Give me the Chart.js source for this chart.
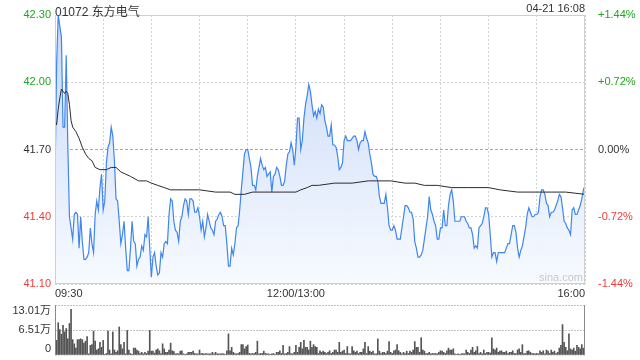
<!DOCTYPE html>
<html>
<head>
<meta charset="utf-8">
<script src="https://cdn.jsdelivr.net/npm/chart.js@4.4.1/dist/chart.umd.min.js"></script>
<style>
  body { margin: 0; background: #fff; width: 640px; height: 360px; overflow: hidden; position: relative;
         font-family: Arial, "Liberation Sans", "Noto Sans CJK SC", sans-serif; }
  canvas { position: absolute; left: 0; }
  #price { top: 0; }
  #vol { top: 300px; }
  .txt { position: absolute; color: #333; white-space: nowrap; }
</style>
</head>
<body>
<canvas id="price" width="640" height="300" style="width:640px;height:300px"></canvas>
<canvas id="vol" width="640" height="60" style="width:640px;height:60px"></canvas>
<div class="txt" style="left:55px;top:2px;font-size:12px">01072 东方电气</div>
<div class="txt" style="right:55px;top:2px;font-size:11px">04-21 16:08</div>
<div class="txt" style="right:57px;top:271px;font-size:11px;color:#c8c8c8">sina.com</div>
<script>
// minute index 0..330 (09:30-12:00, 13:00-16:00)
var prevClose = 41.70;
var priceTicks = [41.10, 41.40, 41.70, 42.00, 42.30];
var pctTicks = [-1.44, -0.72, 0, 0.72, 1.44];
var gridMinutes = [0, 30, 60, 90, 120, 150, 180, 210, 240, 270, 300, 330];
var timeLabels = { 0: "09:30", 150: "12:00/13:00", 330: "16:00" };

var prices = [
  41.56, 42.08, 42.30, 42.25, 42.20, 41.80, 41.80, 42.12, 41.71, 41.40,
  41.35, 41.30, 41.41, 41.42, 41.41, 41.26, 41.40, 41.29, 41.21, 41.21,
  41.22, 41.24, 41.35, 41.28, 41.24, 41.41, 41.47, 41.43, 41.53, 41.59,
  41.43, 41.47, 41.64, 41.71, 41.73, 41.80, 41.76, 41.65, 41.48, 41.47,
  41.38, 41.28, 41.32, 41.38, 41.26, 41.16, 41.16, 41.26, 41.38, 41.29,
  41.28, 41.18, 41.21, 41.22, 41.27, 41.25, 41.32, 41.31, 41.40, 41.26,
  41.13, 41.22, 41.24, 41.18, 41.14, 41.15, 41.24, 41.22, 41.28, 41.29,
  41.28, 41.41, 41.48, 41.47, 41.38, 41.34, 41.33, 41.29, 41.38, 41.40,
  41.45, 41.48, 41.47, 41.41, 41.48, 41.48, 41.47, 41.42, 41.42, 41.44,
  41.40, 41.34, 41.38, 41.31, 41.35, 41.41, 41.38, 41.35, 41.34, 41.32,
  41.38, 41.39, 41.41, 41.42, 41.40, 41.36, 41.36, 41.28, 41.18, 41.18,
  41.26, 41.23, 41.28, 41.35, 41.36, 41.43, 41.52, 41.60, 41.68, 41.70,
  41.70, 41.66, 41.62, 41.54, 41.54, 41.52, 41.58, 41.62, 41.66, 41.63,
  41.61, 41.62, 41.58, 41.59, 41.60, 41.51, 41.58, 41.59, 41.62, 41.61,
  41.58, 41.54, 41.54, 41.56, 41.63, 41.68, 41.69, 41.73, 41.70, 41.63,
  41.71, 41.84, 41.84, 41.70, 41.74, 41.84, 41.90, 41.94, 41.99, 41.96,
  41.90, 41.85, 41.87, 41.84, 41.88, 41.86, 41.90, 41.89, 41.83, 41.80,
  41.76, 41.76, 41.81, 41.72, 41.72, 41.71, 41.67, 41.61, 41.62, 41.64,
  41.74, 41.76, 41.74, 41.74, 41.74, 41.75, 41.76, 41.76, 41.74, 41.70,
  41.73, 41.74, 41.74, 41.78, 41.75, 41.73, 41.68, 41.64, 41.59, 41.58,
  41.58, 41.56, 41.49, 41.46, 41.46, 41.46, 41.50, 41.44, 41.36, 41.34,
  41.34, 41.36, 41.34, 41.30, 41.30, 41.30, 41.35, 41.40, 41.45, 41.45,
  41.44, 41.42, 41.42, 41.39, 41.29, 41.26, 41.22, 41.22, 41.23, 41.25,
  41.30, 41.35, 41.40, 41.49, 41.43, 41.41, 41.38, 41.36, 41.30, 41.30,
  41.35, 41.35, 41.43, 41.36, 41.36, 41.45, 41.50, 41.52, 41.47, 41.38,
  41.38, 41.38, 41.38, 41.40, 41.40, 41.40, 41.38, 41.37, 41.35, 41.35,
  41.32, 41.26, 41.27, 41.26, 41.35, 41.36, 41.37, 41.40, 41.44, 41.44,
  41.41, 41.32, 41.22, 41.24, 41.24, 41.20, 41.24, 41.24, 41.24, 41.24,
  41.24, 41.26, 41.28, 41.28, 41.32, 41.36, 41.36, 41.33, 41.26, 41.22,
  41.25, 41.27, 41.31, 41.35, 41.41, 41.44, 41.42, 41.40, 41.40, 41.41,
  41.41, 41.42, 41.49, 41.52, 41.52, 41.50, 41.46, 41.45, 41.40, 41.42,
  41.42, 41.43, 41.45, 41.47, 41.50, 41.49, 41.44, 41.38, 41.37, 41.35,
  41.34, 41.32, 41.43, 41.44, 41.41, 41.41, 41.43, 41.45, 41.48, 41.52,
  41.54
];

// average price line, read at these minutes
var avgMinutes = [0, 1, 2, 3, 4, 5, 6, 7, 8, 9, 10, 11, 13, 15, 17, 19, 21, 23, 25, 28,
  32, 35, 38, 41, 44, 47, 52, 57, 60, 64, 68, 72, 76, 80, 90, 100, 107, 109, 112, 118,
  123, 135, 145, 150, 153, 157, 160, 164, 174, 185, 195, 200, 209, 218, 224, 230, 238, 247, 257, 270,
  277, 288, 300, 309, 318, 330];
var avgValues = [41.83, 41.81, 41.88, 41.93, 41.97, 41.96, 41.95, 41.96, 41.95, 41.90,
  41.83, 41.80, 41.78, 41.75, 41.71, 41.68, 41.66, 41.65, 41.62, 41.61,
  41.61, 41.62, 41.62, 41.60, 41.59, 41.58, 41.56, 41.56, 41.55, 41.54,
  41.53, 41.52, 41.52, 41.52, 41.52, 41.51, 41.51, 41.51, 41.50, 41.50,
  41.51, 41.51, 41.51, 41.51, 41.52, 41.53, 41.54, 41.54, 41.55, 41.55,
  41.56, 41.56, 41.56, 41.55, 41.55, 41.54, 41.54, 41.53, 41.53, 41.53,
  41.52, 41.51, 41.51, 41.51, 41.51, 41.50];

// volume per minute, in 万 shares
var volumes = [
  2.5, 3.8, 8.4, 6.6, 5.4, 7.7, 6.0, 6.9, 4.2, 8.2,
  11.9, 4.0, 2.9, 1.8, 4.0, 4.0, 4.2, 4.0, 3.1, 3.6,
  4.8, 0.3, 2.5, 2.7, 6.2, 3.6, 1.3, 1.6, 3.3, 2.0,
  3.8, 0.1, 0.4, 6.2, 1.3, 0.3, 6.0, 1.3, 0.7, 1.1,
  7.3, 2.7, 1.6, 3.3, 0.3, 6.4, 1.3, 0.4, 0.1, 1.8,
  1.8, 1.3, 1.0, 0.4, 0.7, 0.3, 0.7, 0.4, 1.0, 6.4,
  1.0, 1.0, 0.5, 1.3, 1.6, 1.1, 0.4, 2.9, 1.6, 0.7,
  0.7, 1.3, 3.1, 1.1, 0.9, 0.3, 0.4, 0.3, 1.0, 1.1,
  0.3, 0.1, 0.3, 0.7, 0.7, 0.7, 1.0, 0.4, 0.3, 0.3,
  1.3, 0.4, 0.4, 0.3, 0.4, 0.3, 0.3, 0.3, 0.7, 0.3,
  0.7, 0.3, 0.3, 0.3, 0.4, 0.3, 0.1, 1.1, 5.5, 1.1,
  2.0, 0.7, 0.4, 0.3, 0.4, 0.7, 2.7, 2.7, 1.6, 2.2,
  2.6, 0.4, 0.3, 0.4, 0.4, 0.7, 3.6, 0.3, 0.4, 0.4,
  1.0, 0.4, 0.3, 0.3, 0.1, 0.3, 0.4, 0.1, 0.7, 0.7,
  1.1, 0.4, 2.5, 0.3, 0.4, 0.7, 2.2, 0.4, 0.3, 0.7,
  2.5, 0.7, 2.0, 3.3, 1.6, 3.8, 2.0, 2.0, 1.3, 3.6,
  2.0, 2.7, 2.2, 2.0, 0.4, 1.1, 0.7, 1.0, 0.7, 0.4,
  0.7, 1.1, 0.4, 0.7, 1.3, 1.3, 0.7, 3.3, 0.7, 1.0,
  1.3, 0.4, 2.2, 0.4, 0.3, 2.2, 1.1, 0.7, 1.0, 0.4,
  0.7, 0.7, 1.6, 3.3, 0.4, 2.2, 1.0, 0.7, 1.0, 0.3,
  0.3, 4.2, 1.0, 0.4, 0.7, 0.7, 0.4, 1.0, 3.5, 0.7,
  0.4, 1.1, 1.3, 2.7, 1.1, 0.7, 0.3, 0.7, 0.4, 1.0,
  0.4, 1.0, 0.7, 1.3, 3.5, 2.0, 2.0, 0.7, 4.5, 1.3,
  1.0, 0.4, 0.4, 0.7, 0.3, 0.4, 0.4, 0.4, 0.3, 0.7,
  1.1, 1.0, 0.7, 0.4, 1.1, 1.8, 1.3, 1.3, 1.6, 0.3,
  0.1, 0.3, 0.1, 0.3, 0.4, 0.3, 1.3, 0.7, 0.4, 1.3,
  2.0, 0.7, 1.1, 2.2, 0.4, 0.7, 0.3, 1.3, 0.4, 0.7,
  0.7, 0.5, 4.5, 1.6, 1.3, 1.8, 0.7, 1.0, 1.1, 0.7,
  0.7, 1.0, 0.4, 0.7, 0.7, 1.1, 0.4, 0.4, 1.3, 1.6,
  0.7, 2.7, 0.4, 0.4, 1.0, 1.1, 0.7, 0.4, 0.4, 0.3,
  0.4, 0.3, 1.1, 0.7, 1.1, 0.3, 1.3, 1.0, 0.4, 1.3,
  0.7, 1.0, 0.4, 0.7, 1.8, 2.5, 7.9, 3.3, 2.0, 1.1,
  5.5, 1.6, 1.3, 1.8, 1.0, 2.5, 2.0, 1.6, 2.7, 1.8,
  2.2
];
var volTicks = [0, 6.505, 13.01];
var volTickLabels = ["0", "6.51万", "13.01万"];

var GREEN = "#1fa51f", RED = "#f03a3a", DARK = "#333";
function priceColor(v) {
  if (v > prevClose + 0.001) return GREEN;
  if (v < prevClose - 0.001) return RED;
  return DARK;
}
function pctColor(v) {
  if (v > 0.001) return GREEN;
  if (v < -0.001) return RED;
  return DARK;
}

var boxPlugin = {
  id: "box",
  afterDraw: function(chart) {
    var a = chart.chartArea, ctx = chart.ctx;
    ctx.save();
    ctx.strokeStyle = "#cfcfcf";
    ctx.lineWidth = 1;
    ctx.strokeRect(a.left + 0.5, a.top + 0.5, a.right - a.left - 1, a.bottom - a.top - 1);
    ctx.restore();
  }
};

var priceCanvas = document.getElementById("price");
var pctx = priceCanvas.getContext("2d");
var grad = pctx.createLinearGradient(0, 15, 0, 284);
grad.addColorStop(0, "rgba(196,214,247,0.95)");
grad.addColorStop(1, "rgba(247,250,255,0.95)");

new Chart(priceCanvas, {
  type: "line",
  data: {
    datasets: [
      {
        label: "price",
        data: prices.map(function(p, i) { return { x: i, y: p }; }),
        borderColor: "#3f86ee",
        borderWidth: 1.2,
        backgroundColor: grad,
        fill: "start",
        pointRadius: 0,
        tension: 0,
        order: 2
      },
      {
        label: "avg",
        data: avgMinutes.map(function(m, i) { return { x: m, y: avgValues[i] }; }),
        borderColor: "#2b2b2b",
        borderWidth: 1,
        fill: false,
        pointRadius: 0,
        tension: 0,
        order: 1
      }
    ]
  },
  options: {
    responsive: false,
    animation: false,
    layout: { padding: { top: 15, left: 0, right: 0, bottom: 0 } },
    plugins: { legend: { display: false }, tooltip: { enabled: false } },
    scales: {
      x: {
        type: "linear", min: 0, max: 330, offset: false,
        afterBuildTicks: function(s) { s.ticks = gridMinutes.map(function(v) { return { value: v }; }); },
        ticks: {
          autoSkip: false, maxRotation: 0, align: "inner", padding: 3,
          color: DARK, font: { size: 11, family: "Arial, 'Liberation Sans'" },
          callback: function(v) { return timeLabels[v] || ""; }
        },
        grid: { color: "#d2d2d2", drawTicks: false },
        border: { display: false, dash: [2, 2] },
        afterFit: function(s) { s.height = 16; }
      },
      y: {
        position: "left", min: 41.10, max: 42.30,
        afterBuildTicks: function(s) { s.ticks = priceTicks.map(function(v) { return { value: v }; }); },
        ticks: {
          padding: 4, font: { size: 11, family: "Arial, 'Liberation Sans'" },
          color: function(c) { return priceColor(c.tick.value); },
          callback: function(v) { return v.toFixed(2); }
        },
        grid: {
          drawTicks: false,
          color: function(c) { return Math.abs(c.tick.value - prevClose) < 0.001 ? "#a8a8a8" : "#d2d2d2"; }
        },
        border: { display: false, dash: function(c) { return Math.abs(c.tick.value - prevClose) < 0.001 ? [3, 2] : [2, 2]; } },
        afterFit: function(s) { s.width = 55; }
      },
      y2: {
        position: "right", min: -1.44, max: 1.44,
        afterBuildTicks: function(s) { s.ticks = pctTicks.map(function(v) { return { value: v }; }); },
        ticks: {
          padding: 5, font: { size: 11, family: "Arial, 'Liberation Sans'" },
          color: function(c) { return pctColor(c.tick.value); },
          callback: function(v) { return (v > 0 ? "+" : "") + v.toFixed(2) + "%"; }
        },
        grid: { display: false },
        border: { display: false },
        afterFit: function(s) { s.width = 55; }
      }
    }
  },
  plugins: [boxPlugin]
});

var volFrame = {
  id: "volFrame",
  afterDraw: function(chart) {
    var a = chart.chartArea, ctx = chart.ctx, ys = chart.scales.y;
    ctx.save();
    ctx.strokeStyle = "#8a8a8a";
    ctx.lineWidth = 1;
    ctx.beginPath();
    ctx.moveTo(a.left + 0.5, a.top); ctx.lineTo(a.left + 0.5, a.bottom);
    ctx.moveTo(a.right - 0.5, a.top); ctx.lineTo(a.right - 0.5, a.bottom);
    ctx.stroke();
    ctx.font = "11px Arial, 'Liberation Sans', 'Noto Sans CJK SC'";
    ctx.fillStyle = DARK;
    ctx.textAlign = "right";
    ctx.textBaseline = "middle";
    volTicks.forEach(function(v, i) {
      var y = ys.getPixelForValue(v);
      y = Math.min(Math.max(y, a.top + 6), a.bottom - 6);
      ctx.fillText(volTickLabels[i], a.left - 4, y);
    });
    ctx.restore();
  }
};

new Chart(document.getElementById("vol"), {
  type: "bar",
  data: {
    datasets: [{
      data: volumes.map(function(v, i) { return { x: i, y: v }; }),
      backgroundColor: "#555",
      barThickness: 1,
      borderWidth: 0
    }]
  },
  options: {
    responsive: false,
    animation: false,
    layout: { padding: { top: 5, bottom: 5, left: 0, right: 55 } },
    plugins: { legend: { display: false }, tooltip: { enabled: false } },
    scales: {
      x: { type: "linear", min: 0, max: 330, offset: false, display: false },
      y: {
        min: 0, max: 13.01,
        afterBuildTicks: function(s) { s.ticks = volTicks.map(function(v) { return { value: v }; }); },
        ticks: { display: false },
        grid: { drawTicks: false, color: function(c) { return c.tick.value === 0 ? "#dddddd" : "#c4c4c4"; } },
        border: { display: false, dash: [2, 1] },
        afterFit: function(s) { s.width = 55; }
      }
    }
  },
  plugins: [volFrame]
});
</script>
</body>
</html>
